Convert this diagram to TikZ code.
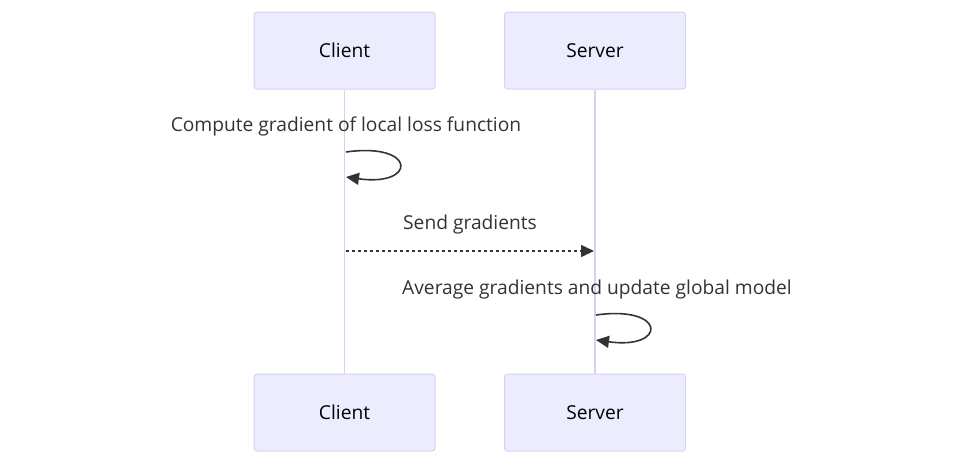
\documentclass[tikz,border=0pt]{standalone}
\usepackage{fontspec}
\setmainfont{Open Sans}
\usetikzlibrary{arrows.meta}
\definecolor{actfill}{HTML}{ECECFF}
\definecolor{actline}{HTML}{D9D0F3}
\definecolor{txt}{HTML}{333333}
\begin{document}
\begin{tikzpicture}[x=1pt,y=-1pt,
  actor/.style={draw=actline,fill=actfill,line width=1pt,rounded corners=3pt,minimum width=181pt,minimum height=77pt,inner sep=0pt,font=\fontsize{19.2}{23}\selectfont,text=black},
  life/.style={draw=actline,line width=1.8pt},
  msg/.style={font=\fontsize{19.2}{23}\selectfont,text=txt,inner sep=0pt},
  arr/.style={draw=txt,line width=1.6pt,-{Triangle[length=13pt,width=12pt]}}]
\useasboundingbox (0,0) rectangle (962,464);
\node[actor] (ct) at (344.5,50.5) {Client};
\node[actor] (st) at (595,50.5) {Server};
\node[actor] (cb) at (344.5,412.5) {Client};
\node[actor] (sb) at (595,412.5) {Server};
\draw[life] (ct.south) -- (cb.north);
\draw[life] (st.south) -- (sb.north);
\node[msg] (m1) at (346,126) {Compute gradient of local loss function};
\node[msg] (m2) at (470,224.5) {Send gradients};
\node[msg] (m3) at (597,289.5) {Average gradients and update global model};
\coordinate (c1a) at (346,152);
\coordinate (c1b) at (346,177);
\coordinate (c2a) at (346,251);
\coordinate (c2b) at (594,251);
\coordinate (c3a) at (596,315);
\coordinate (c3b) at (596,340);
\draw[arr] (c1a) .. controls (417,142) and (417,187) .. (c1b);
\draw[arr,dash pattern=on 3pt off 3pt] (c2a) -- (c2b);
\draw[arr] (c3a) .. controls (667,305) and (667,350) .. (c3b);
\end{tikzpicture}
\end{document}
